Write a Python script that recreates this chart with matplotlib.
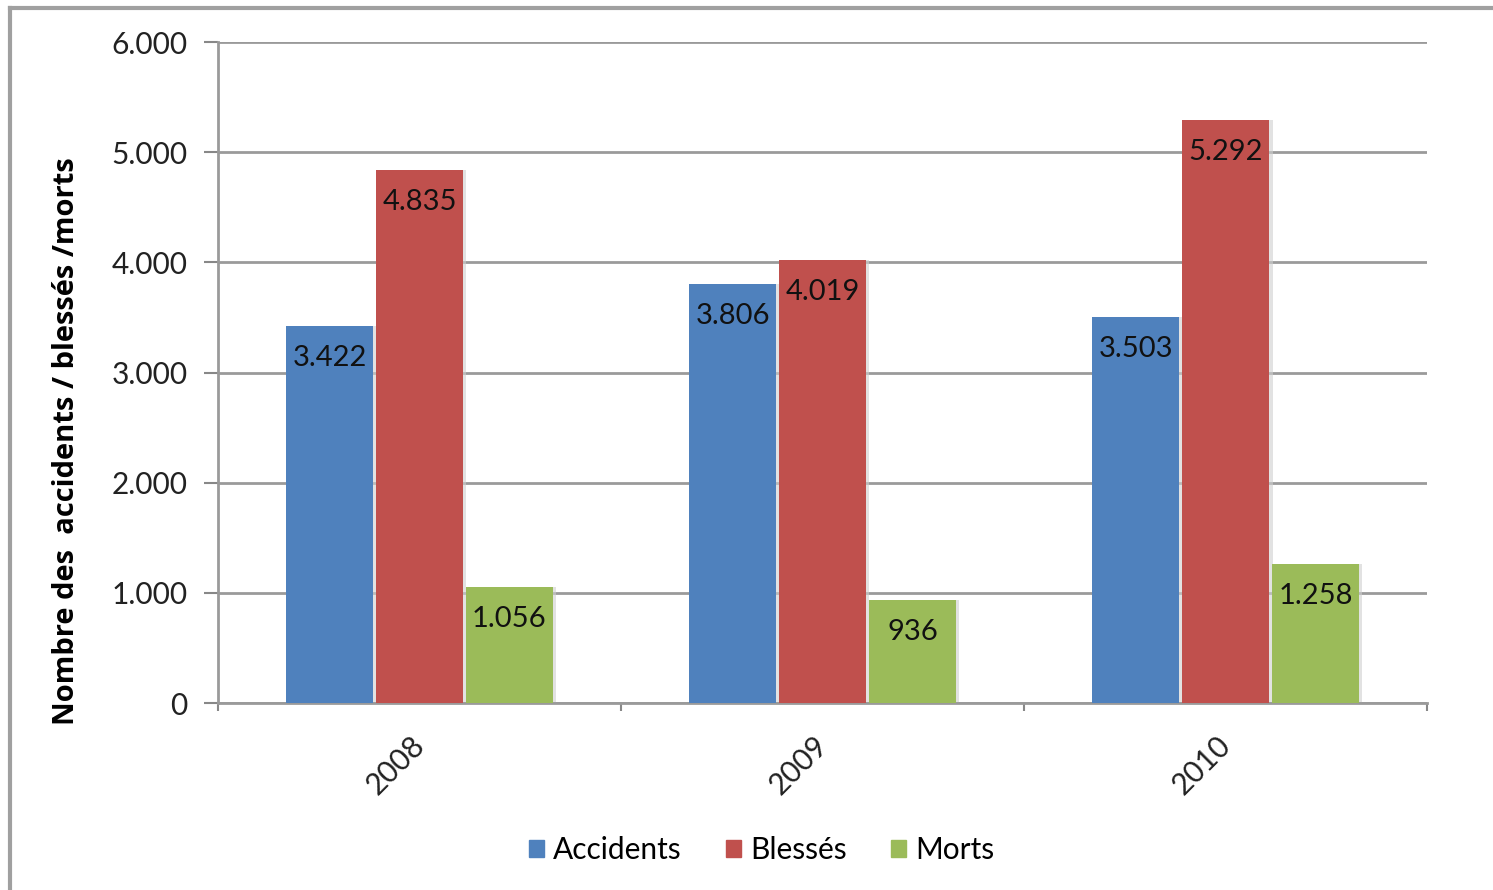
import matplotlib
matplotlib.use("Agg")
import matplotlib.pyplot as plt
import numpy as np
from matplotlib.lines import Line2D

years = ["2008", "2009", "2010"]
series_names = ["Accidents", "Blessés", "Morts"]
accidents = [3422, 3806, 3503]
blesses = [4835, 4019, 5292]
morts = [1056, 936, 1258]
value_labels = {
    "Accidents": ["3.422", "3.806", "3.503"],
    "Blessés": ["4.835", "4.019", "5.292"],
    "Morts": ["1.056", "936", "1.258"],
}
y_ticks = [0, 1000, 2000, 3000, 4000, 5000, 6000]
y_tick_labels = ["0", "1.000", "2.000", "3.000", "4.000", "5.000", "6.000"]
colors = ["#4F81BD", "#C0504D", "#9BBB59"]

plt.rcParams['font.family'] = ['Lato', 'DejaVu Sans']

fig = plt.figure(figsize=(14.93, 8.90), dpi=100)
ax = fig.add_axes([0.146, 0.2101, 0.81, 0.7427])

x = np.arange(len(years)) + 0.5
width = 0.216
step = 0.223
all_series = [accidents, blesses, morts]
for i, (name, vals) in enumerate(zip(series_names, all_series)):
    pos = x + (i - 1) * step
    ax.bar(pos + 0.008, vals, width, color="#d0d0d0", zorder=2, alpha=0.6)
    ax.bar(pos, vals, width, color=colors[i], label=name, zorder=3)
    for p, v, lab in zip(pos, vals, value_labels[name]):
        ax.annotate(lab, (p, v), xytext=(0, -32), textcoords="offset pixels",
                    ha="center", va="center", fontsize=21, color="#111111", zorder=4)

ax.set_xlim(0, 3)
ax.set_ylim(0, 6000)
ax.set_yticks(y_ticks)
ax.set_yticklabels(y_tick_labels, fontsize=21.5, color="#222222")
ax.set_xticks([0, 1, 2, 3])
ax.set_xticklabels([])
for xi, yr in zip(x, years):
    ax.annotate(yr, (xi, 0), xytext=(-24, -62), textcoords="offset pixels",
                rotation=45, ha="center", va="center", fontsize=21.5, color="#222222",
                annotation_clip=False)
ax.tick_params(axis="x", which="major", length=6, direction="out", color="#888888", width=1.5)
ax.tick_params(axis="y", length=10, direction="out", color="#888888", width=1.5, pad=12)

ax.yaxis.grid(True, color="#9a9a9a", linewidth=2, zorder=0)
ax.set_axisbelow(True)
for s in ["top", "right"]:
    ax.spines[s].set_visible(False)
for s in ["left", "bottom"]:
    ax.spines[s].set_color("#9a9a9a")
    ax.spines[s].set_linewidth(2)

ax.set_ylabel("Nombre des  accidents / blessés /morts", fontsize=21, fontweight="bold",
              family=["Open Sans", "DejaVu Sans"])
ax.yaxis.set_label_coords(-0.113, 0.396)

handles = [plt.Rectangle((0, 0), 1, 1, color=c) for c in colors]
leg = fig.legend(handles, series_names, loc="center", bbox_to_anchor=(0.51, 0.045), ncol=3,
                 frameon=False, fontsize=21.5, handlelength=0.5, handleheight=0.5,
                 handletextpad=0.3, columnspacing=1.5)

fig.add_artist(Line2D([10/1493, 10/1493], [0, 1 - 8/890], transform=fig.transFigure, color="#a0a0a0", lw=3))
fig.add_artist(Line2D([10/1493, 1], [1 - 8/890, 1 - 8/890], transform=fig.transFigure, color="#a0a0a0", lw=3))

fig.savefig("out.png", dpi=100)
